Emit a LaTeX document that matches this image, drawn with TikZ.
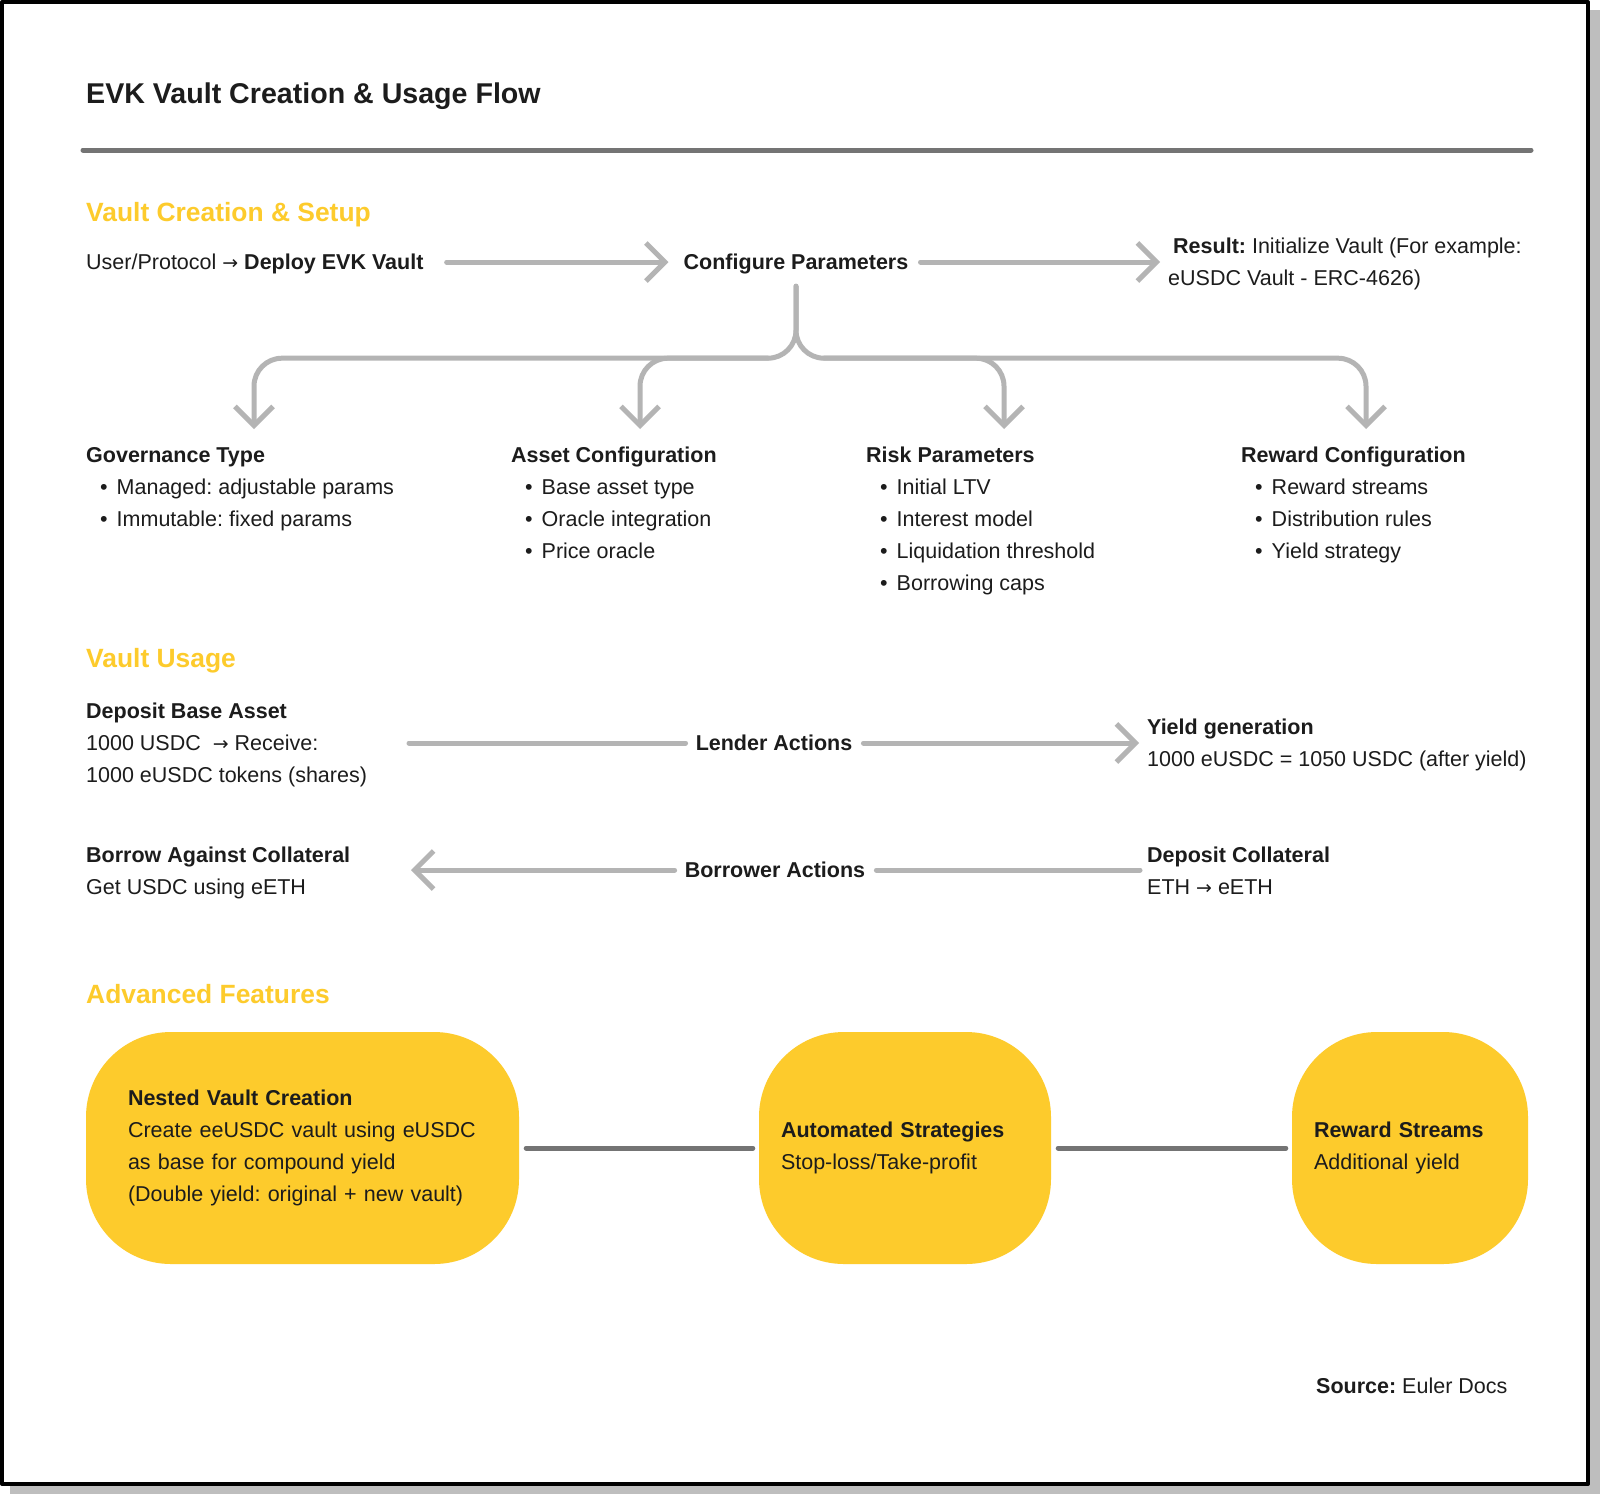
\documentclass[tikz,border=0pt]{standalone}
\usepackage{fontspec}
\setmainfont{Liberation Sans}
\newfontfamily\arrowfont[Scale=0.88]{DejaVu Sans}
\usetikzlibrary{arrows.meta}
\definecolor{evkink}{HTML}{1C1C1C}
\definecolor{evkyellow}{HTML}{FDCB2C}
\definecolor{evkflow}{HTML}{B4B4B4}
\definecolor{evkrule}{HTML}{747474}
\definecolor{evkshade}{HTML}{BEBEBE}
\newcommand{\itm}{\hspace*{14pt}\textbullet\hspace{9pt}}
\newcommand{\ra}{{\arrowfont →}}
\frenchspacing

\begin{document}
\begin{tikzpicture}[x=1pt,y=-1pt,line cap=round,line join=round,
  font=\fontsize{21.5}{32}\selectfont,text=evkink,
  txt/.style={anchor=base west,inner sep=0pt,align=left},
  lbl/.style={inner sep=0pt,text height=14pt,text depth=0pt},
  bold/.style={font=\fontsize{21.5}{32}\selectfont\bfseries},
  sect/.style={anchor=base west,inner sep=0pt,text=evkyellow,
    font=\fontsize{26.4}{30}\selectfont\bfseries},
  flow/.style={draw=evkflow,line width=5pt},
  tip/.style={-{Straight Barb[length=19pt,width=38pt]}},
  feat/.style={fill=evkyellow,rounded corners=85pt,minimum height=232pt,
    align=left,inner ysep=0pt,inner xsep=22pt},
  link/.style={draw=evkrule,line width=5pt,shorten <=7pt,shorten >=6pt}]
\path[use as bounding box] (0,0) rectangle (1600,1494);
\fill[evkshade] (10,10) rectangle (1600,1494);
\draw[line width=4pt,fill=white] (2,2) rectangle (1588,1484);

% title
\node[anchor=base west,inner sep=0pt,font=\fontsize{28.6}{32}\selectfont\bfseries]
  (title) at (86,103) {EVK Vault Creation \& Usage Flow};
\draw[evkrule,line width=5pt] (83,150) -- (1531,150);

% creation and setup (multi-line nodes sit on their last baseline)
\node[sect] (setup) at (86,221) {Vault Creation \& Setup};
\node[txt,lbl] (user) at (86,269) {User/Protocol \ra\ \textbf{Deploy EVK Vault}};
\node[lbl,bold,anchor=base] (cfg) at (796,269) {Configure Parameters};
\node[txt] (result) at (1173,285)
  {\textbf{Result:} Initialize Vault (For example:\\\hspace*{-5pt}eUSDC Vault - ERC-4626)};
\draw[flow,tip,shorten <=23pt,shorten >=15pt] (user.east) -- (cfg.west);
\draw[flow,tip,shorten <=12pt,shorten >=13pt] (cfg.east) -- (cfg.east -| result.west);

% fork into the four parameter groups
\path (cfg.south) ++(0,89) coordinate (fork);
\coordinate (govtip) at (254,429);
\coordinate (assettip) at (640,429);
\coordinate (risktip) at (1004,429);
\coordinate (rewardtip) at (1366,429);
\draw[flow,tip,rounded corners=28pt,shorten <=17pt] (cfg.south) |- (govtip |- fork) -- (govtip);
\draw[flow,tip,rounded corners=28pt,shorten <=17pt] (cfg.south) |- (rewardtip |- fork) -- (rewardtip);
\draw[flow,tip,rounded corners=28pt,shorten <=28pt] (fork) -| (assettip);
\draw[flow,tip,rounded corners=28pt,shorten <=28pt] (fork) -| (risktip);

\node[txt] (gov) at (86,526) {\textbf{Governance Type}\\
  \itm Managed: adjustable params\\\itm Immutable: fixed params};
\node[txt] (asset) at (511,558) {\textbf{Asset Configuration}\\
  \itm Base asset type\\\itm Oracle integration\\\itm Price oracle};
\node[txt] (risk) at (866,590) {\textbf{Risk Parameters}\\
  \itm Initial LTV\\\itm Interest model\\\itm Liquidation threshold\\\itm Borrowing caps};
\node[txt] (reward) at (1241,558) {\textbf{Reward Configuration}\\
  \itm Reward streams\\\itm Distribution rules\\\itm Yield strategy};

% usage: lenders and borrowers
\node[sect] (usage) at (86,667) {Vault Usage};
\node[txt] (deposit) at (86,782) {\textbf{Deposit Base Asset}\\
  1000 USDC \ \ra\ Receive:\\1000 eUSDC tokens (shares)};
\node[lbl,bold,anchor=base] (lender) at (774,750) {Lender Actions};
\node[txt] (yield) at (1147,766) {\textbf{Yield generation}\\
  1000 eUSDC = 1050 USDC (after yield)};
\coordinate (lendtail) at (409,743);
\draw[flow,shorten >=10pt] (lendtail) -- (lender.west);
\draw[flow,tip,shorten <=11pt,shorten >=8pt] (lender.east) -- (lender.east -| yield.west);

\node[txt] (borrow) at (86,894) {\textbf{Borrow Against Collateral}\\Get USDC using eETH};
\node[lbl,bold,anchor=base] (borrower) at (775,877) {Borrower Actions};
\node[txt] (collat) at (1147,894) {\textbf{Deposit Collateral}\\ETH \ra\ eETH};
\coordinate (borrowtip) at (411,870);
\draw[flow,shorten <=7pt,shorten >=11pt] (collat.west |- borrower.east) -- (borrower.east);
\draw[flow,tip,shorten <=10pt] (borrower.west) -- (borrowtip);

% advanced features
\node[sect] (adv) at (86,1003) {Advanced Features};
\node[feat,inner xsep=42pt,text width=349pt] (nested) at (302.5,1148) {\textbf{Nested Vault Creation}\\
  Create eeUSDC vault using eUSDC\\as base for compound yield\\(Double yield: original + new vault)};
\node[feat,text width=248pt] (auto) at (905,1148) {\textbf{Automated Strategies}\\Stop-loss/Take-profit};
\node[feat,text width=192pt] (streams) at (1410,1148) {\textbf{Reward Streams}\\Additional yield};
\draw[link] (nested) -- (auto);
\draw[link] (auto) -- (streams);

\node[txt] (source) at (1316,1393) {\textbf{Source:} Euler Docs};
\end{tikzpicture}
\end{document}
